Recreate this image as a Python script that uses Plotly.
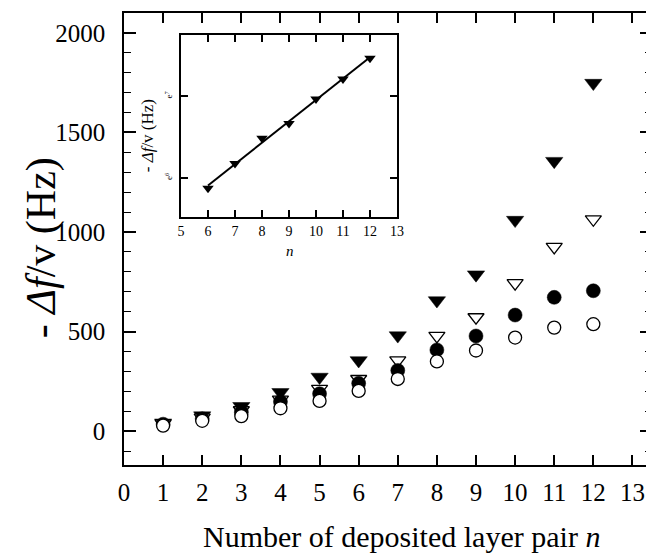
import numpy as np
import plotly.graph_objects as go

# ---- data ----
n = list(range(1, 13))
filled_tri = [42, 78, 125, 195, 272, 355, 480, 656, 786, 1060, 1356, 1748]
open_tri = [38, 68, 105, 158, 212, 262, 355, 478, 572, 743, 925, 1064]
filled_circ = [35, 62, 95, 148, 188, 240, 305, 408, 478, 583, 672, 705]
open_circ = [28, 52, 75, 115, 152, 202, 262, 350, 405, 470, 520, 537]

x_ticks = list(range(0, 14))
y_ticks = [0, 500, 1000, 1500, 2000]
inset_x_ticks = list(range(5, 14))
inset_n = n[5:]
inset_vals = filled_tri[5:]
inset_y_tickvals = [float(np.exp(6)), float(np.exp(7))]
inset_y_ticktext = ["e<sup>6</sup>", "e<sup>7</sup>"]

x_title = "Number of deposited layer pair <i>n</i>"
y_title = "- <i>Δf</i>/v (Hz)"
inset_x_title = "<i>n</i>"
inset_y_title = "- <i>Δf</i>/v (Hz)"

# exponential fit for the inset line
coef = np.polyfit(inset_n, np.log(inset_vals), 1)
fit_vals = np.exp(np.polyval(coef, inset_n))

FONT = "Liberation Serif"
BLACK = "black"

fig = go.Figure()

# main series (draw order: ▼, ▽, ●, ○)
fig.add_trace(go.Scatter(x=n, y=filled_tri, mode="markers",
                         marker=dict(symbol="triangle-down", size=15, color=BLACK,
                                     line=dict(color=BLACK, width=0.5)),
                         showlegend=False, xaxis="x", yaxis="y"))
fig.add_trace(go.Scatter(x=n, y=open_tri, mode="markers",
                         marker=dict(symbol="triangle-down", size=14, color="white",
                                     line=dict(color=BLACK, width=1.3)),
                         showlegend=False, xaxis="x", yaxis="y"))
fig.add_trace(go.Scatter(x=n, y=filled_circ, mode="markers",
                         marker=dict(symbol="circle", size=14, color=BLACK,
                                     line=dict(color=BLACK, width=0.5)),
                         showlegend=False, xaxis="x", yaxis="y"))
fig.add_trace(go.Scatter(x=n, y=open_circ, mode="markers",
                         marker=dict(symbol="circle", size=13, color="white",
                                     line=dict(color=BLACK, width=1.3)),
                         showlegend=False, xaxis="x", yaxis="y"))

# inset
fig.add_trace(go.Scatter(x=inset_n, y=fit_vals, mode="lines",
                         line=dict(color=BLACK, width=2),
                         showlegend=False, xaxis="x2", yaxis="y2"))
fig.add_trace(go.Scatter(x=inset_n, y=inset_vals, mode="markers",
                         marker=dict(symbol="triangle-down", size=10, color=BLACK),
                         showlegend=False, xaxis="x2", yaxis="y2"))

axis_common = dict(showgrid=False, zeroline=False, showline=True, linecolor=BLACK,
                   mirror="ticks", ticks="inside", tickcolor=BLACK, automargin=False)

# the page adds an 8px body margin; the figure is sized to fit the window
fig.update_layout(
    width=646, height=549,
    margin=dict(l=116, r=2, t=5, b=92),
    paper_bgcolor="white", plot_bgcolor="white",
    font=dict(family=FONT, color=BLACK),
    xaxis=dict(**axis_common, range=[0, 13.5], tickvals=x_ticks, ticklen=10,
               linewidth=1.5, tickwidth=1.5,
               tickfont=dict(family=FONT, size=25, color=BLACK), ticklabelstandoff=4,
               domain=[0, 1], anchor="y"),
    yaxis=dict(**axis_common, range=[-170, 2100], tickvals=y_ticks, ticklen=12,
               linewidth=1.5, tickwidth=1.5,
               minor=dict(dtick=100, tick0=0, ticks="inside", ticklen=7,
                          tickcolor=BLACK, tickwidth=1),
               tickfont=dict(family=FONT, size=25, color=BLACK), ticklabelstandoff=12,
               domain=[0, 1], anchor="x"),
    xaxis2=dict(**axis_common, range=[5, 13], tickvals=inset_x_ticks, ticklen=7,
                linewidth=2, tickwidth=1.5,
                tickfont=dict(family=FONT, size=14, color=BLACK), ticklabelstandoff=0,
                domain=[0.108, 0.517], anchor="y2"),
    yaxis2=dict(**axis_common, type="log",
                range=[float(np.log10(np.exp(5.52))), float(np.log10(np.exp(7.75)))],
                tickvals=inset_y_tickvals, ticktext=inset_y_ticktext, tickangle=-90,
                ticklen=7, linewidth=2, tickwidth=1.5,
                tickfont=dict(family=FONT, size=9, color=BLACK), ticklabelstandoff=3,
                domain=[0.549, 0.951], anchor="x2"),
    annotations=[
        dict(text=x_title, xref="paper", yref="paper", x=0.5265, y=-0.159,
             xanchor="center", yanchor="middle", showarrow=False,
             font=dict(family=FONT, size=30, color=BLACK)),
        dict(text=y_title, xref="paper", yref="paper", x=-0.157, y=0.48,
             xanchor="center", yanchor="middle", showarrow=False, textangle=-90,
             font=dict(family=FONT, size=42, color=BLACK)),
        dict(text=inset_x_title, xref="paper", yref="paper", x=0.314, y=0.474,
             xanchor="center", yanchor="middle", showarrow=False,
             font=dict(family=FONT, size=15, color=BLACK)),
        dict(text=inset_y_title, xref="paper", yref="paper", x=0.046, y=0.728,
             xanchor="center", yanchor="middle", showarrow=False, textangle=-90,
             font=dict(family=FONT, size=17, color=BLACK)),
    ],
)

fig.write_html("out.html")
